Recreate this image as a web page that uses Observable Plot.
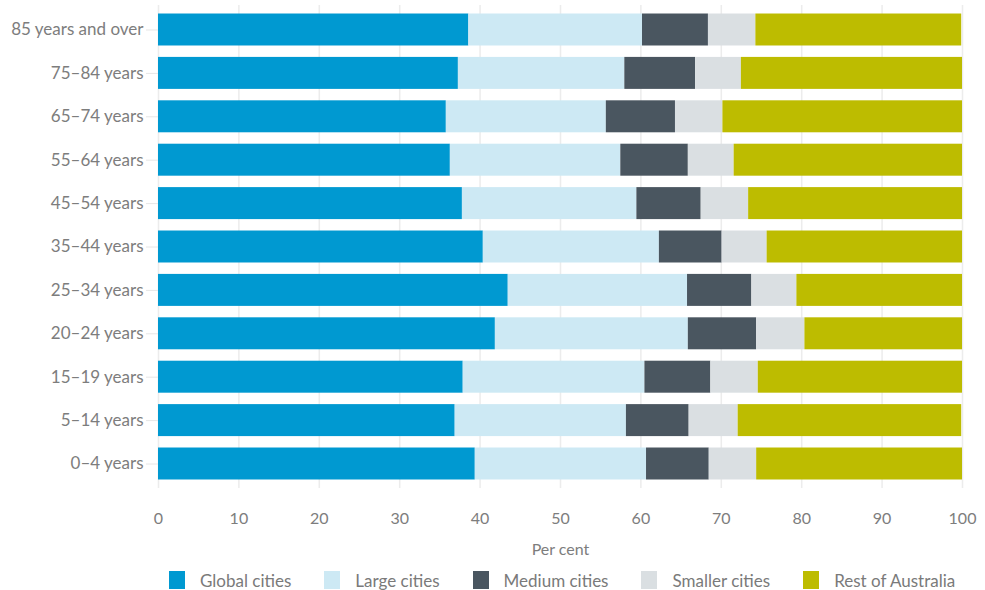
<!DOCTYPE html>
<html>
<head>
<meta charset="utf-8">
<script src="https://cdn.jsdelivr.net/npm/d3@7"></script>
<script src="https://cdn.jsdelivr.net/npm/@observablehq/plot@0.6"></script>
<style>
  body { margin: 0; background: #fff; font-family: Lato, "Open Sans", sans-serif; }
  #chart svg { display: block; }
  #legend { display: flex; flex-wrap: nowrap; align-items: center; padding-left: 169px; margin-top: 8px; height: 20px; color: #7a7a7a; font-size: 17px; white-space: nowrap; }
  #legend .item { display: flex; flex-shrink: 0; align-items: center; margin-right: 33px; }
  #legend .sw { width: 16px; height: 18px; margin-right: 15px; flex-shrink: 0; }
</style>
</head>
<body>
<div id="chart"></div>
<div id="legend"></div>
<script>
const ageGroups = ["85 years and over", "75–84 years", "65–74 years", "55–64 years", "45–54 years",
  "35–44 years", "25–34 years", "20–24 years", "15–19 years", "5–14 years", "0–4 years"];
const seriesNames = ["Global cities", "Large cities", "Medium cities", "Smaller cities", "Rest of Australia"];
const seriesColors = ["#0099d1", "#cde9f4", "#4a5660", "#dadfe2", "#bdbc00"];
const xTicks = [0, 10, 20, 30, 40, 50, 60, 70, 80, 90, 100];

const globalCities    = [38.6, 37.3, 35.8, 36.3, 37.8, 40.4, 43.5, 41.9, 37.9, 36.9, 39.4];
const largeCities     = [21.6, 20.7, 19.9, 21.2, 21.7, 21.9, 22.3, 24.0, 22.6, 21.3, 21.3];
const mediumCities    = [8.2, 8.8, 8.6, 8.4, 8.0, 7.8, 8.0, 8.5, 8.2, 7.8, 7.8];
const smallerCities   = [5.9, 5.7, 5.9, 5.7, 5.9, 5.6, 5.6, 6.0, 5.9, 6.1, 5.9];
const restOfAustralia = [25.6, 27.5, 29.8, 28.4, 26.6, 24.3, 20.6, 19.6, 25.4, 27.8, 25.6];

const seriesValues = [globalCities, largeCities, mediumCities, smallerCities, restOfAustralia];
const data = ageGroups.flatMap((age, i) =>
  seriesNames.map((s, j) => ({ age, series: s, value: seriesValues[j][i] })));

const textColor = "#7d7d7d";

const chart = Plot.plot({
  width: 985,
  height: 562,
  marginLeft: 158,
  marginRight: 23,
  marginTop: 5,
  marginBottom: 74,
  style: { fontFamily: "Lato, 'Open Sans', sans-serif", fontSize: "16px", color: textColor, background: "#fff" },
  x: { domain: [0, 100] },
  y: { domain: ageGroups, paddingInner: 0.263, paddingOuter: 0.196, round: false, label: null },
  color: { domain: seriesNames, range: seriesColors },
  marks: [
    Plot.gridX(xTicks, { stroke: "#ececec", strokeOpacity: 1, strokeWidth: 1.5 }),
    Plot.barX(data, { x: "value", y: "age", fill: "series" }),
    Plot.axisX({ ticks: xTicks, tickSize: 0, tickPadding: 24, label: "Per cent", labelAnchor: "center", labelArrow: "none", labelOffset: 66, fontSize: 16, fill: textColor }),
    Plot.axisY({ tickSize: 12, tickPadding: 3, stroke: "#e6e6e6", fill: textColor, fontSize: 17, label: null })
  ]
});
document.getElementById("chart").appendChild(chart);

const legend = document.getElementById("legend");
seriesNames.forEach((name, i) => {
  const item = document.createElement("div");
  item.className = "item";
  const sw = document.createElement("div");
  sw.className = "sw";
  sw.style.background = seriesColors[i];
  const label = document.createElement("span");
  label.textContent = name;
  item.appendChild(sw);
  item.appendChild(label);
  legend.appendChild(item);
});
</script>
</body>
</html>
